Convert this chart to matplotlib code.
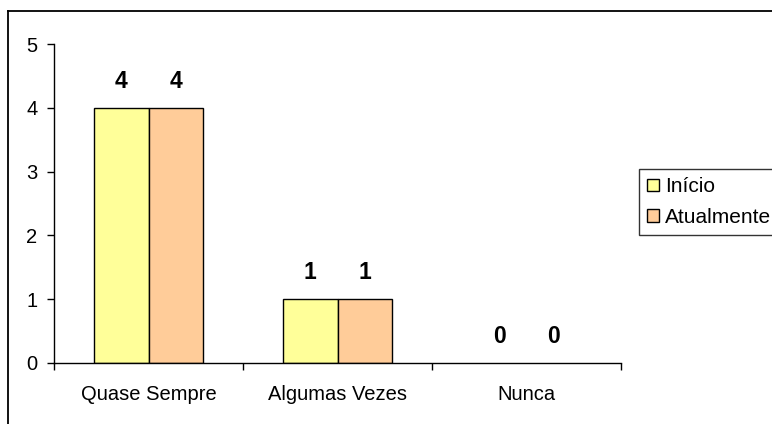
import numpy as np
import matplotlib
matplotlib.use("Agg")
import matplotlib.pyplot as plt
from matplotlib.lines import Line2D
from matplotlib.patches import Patch

# data
categories = ["Quase Sempre", "Algumas Vezes", "Nunca"]
series_names = ["Início", "Atualmente"]
inicio = [4, 1, 0]
atualmente = [4, 1, 0]
colors = ["#FFFF99", "#FFCC99"]

plt.rcParams['font.family'] = ['Liberation Sans', 'DejaVu Sans']

fig = plt.figure(figsize=(7.72, 4.24), dpi=100)
ax = fig.add_axes([54/772, 1-363/424, (621-54)/772, (363-44)/424])

x = np.arange(len(categories))
w = 0.29
values = [inicio, atualmente]
for i, vals in enumerate(values):
    pos = x + (i - 0.5) * w
    # zero bars have no visible outline in the original
    lws = [1 if v > 0 else 0 for v in vals]
    ax.bar(pos, vals, width=w, color=colors[i], edgecolor="black", linewidth=lws, zorder=2)
    for px, v in zip(pos, vals):
        ax.annotate(str(v), (px, v), xytext=(0, 19), textcoords="offset points",
                    ha="center", va="center", fontsize=16.5, fontweight="bold")

ax.set_xlim(-0.5, len(categories) - 0.5)
ax.set_ylim(0, 5)
ax.set_yticks(range(0, 6))

# ticks at category boundaries, labels at category centers
ax.set_xticks(np.arange(-0.5, len(categories), 1.0))
ax.set_xticklabels([])
ax.set_xticks(x, minor=True)
ax.set_xticklabels(categories, minor=True)
ax.tick_params(axis="x", which="major", direction="out", length=5, width=1)
ax.tick_params(axis="x", which="minor", length=0, pad=16, labelsize=14.5)
ax.tick_params(axis="y", direction="out", length=5, width=1, pad=7, labelsize=14.5)

for s in ["top", "right"]:
    ax.spines[s].set_visible(False)
for s in ["left", "bottom"]:
    ax.spines[s].set_linewidth(1)

# outer chart frame (only top and left edges visible in the picture)
fig.add_artist(Line2D([8/772, 8/772], [0, 1-11/424], color="black", linewidth=1.3))
fig.add_artist(Line2D([8/772, 1], [1-11/424, 1-11/424], color="black", linewidth=1.3))

handles = [Patch(facecolor=c, edgecolor="black", linewidth=1) for c in colors]
leg = fig.legend(handles, series_names, loc="upper left",
                 bbox_to_anchor=(639/772, 1-169/424), fontsize=15,
                 frameon=True, fancybox=False, edgecolor="black",
                 handlelength=0.55, handleheight=0.55, handletextpad=0.3,
                 borderpad=0.4, labelspacing=0.55, borderaxespad=0)
leg.get_frame().set_linewidth(1)

fig.savefig("out.png", dpi=100)
